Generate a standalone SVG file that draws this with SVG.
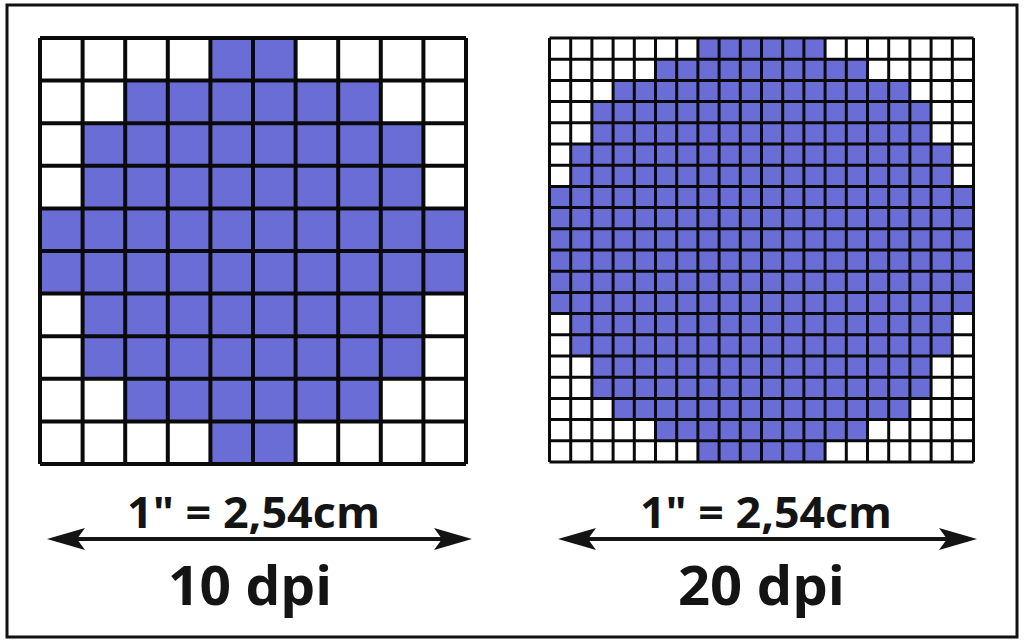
<svg xmlns="http://www.w3.org/2000/svg" width="1024" height="642" viewBox="0 0 1024 642">
<style>
.fill{fill:#6a6dd6;stroke:none}
.grid10{fill:none;stroke:#0a0a0a;stroke-width:4}
.grid20{fill:none;stroke:#0a0a0a;stroke-width:3}
.lbl{font-family:"Open Sans","Liberation Sans",sans-serif;font-weight:700;fill:#141414;text-anchor:middle}
.dim{stroke:#141414;stroke-width:4;fill:none}
</style>
<defs>
<marker id="ah" markerUnits="userSpaceOnUse" viewBox="0 -12 40 24" markerWidth="40" markerHeight="24" refX="8" refY="0" orient="auto-start-reverse">
<path d="M38,0 L0,-11 L8,0 L0,11 Z" fill="#141414"/>
</marker>
</defs>
<rect x="0" y="0" width="1024" height="642" fill="#ffffff"/>
<rect id="frame" x="7" y="5" width="1010" height="632" fill="#ffffff" stroke="#111" stroke-width="3"/>

<g id="grid-10dpi">
<rect class="fill" x="210.4" y="38" width="85.2" height="42.6"/>
<rect class="fill" x="125.2" y="80.6" width="255.6" height="42.6"/>
<rect class="fill" x="82.6" y="123.2" width="340.8" height="85.2"/>
<rect class="fill" x="40" y="208.4" width="426" height="85.2"/>
<rect class="fill" x="82.6" y="293.6" width="340.8" height="85.2"/>
<rect class="fill" x="125.2" y="378.8" width="255.6" height="42.6"/>
<rect class="fill" x="210.4" y="421.4" width="85.2" height="42.6"/>
<path class="grid10" d="M40 38V464M82.6 38V464M125.2 38V464M167.8 38V464M210.4 38V464M253 38V464M295.6 38V464M338.2 38V464M380.8 38V464M423.4 38V464M466 38V464M40 38H466M40 80.6H466M40 123.2H466M40 165.8H466M40 208.4H466M40 251H466M40 293.6H466M40 336.2H466M40 378.8H466M40 421.4H466M40 464H466"/>
</g>

<g id="grid-20dpi">
<rect class="fill" x="697.9" y="38" width="127.2" height="21.2"/>
<rect class="fill" x="655.5" y="59.2" width="212" height="21.2"/>
<rect class="fill" x="613.1" y="80.4" width="296.8" height="21.2"/>
<rect class="fill" x="591.9" y="101.6" width="339.2" height="42.4"/>
<rect class="fill" x="570.7" y="144" width="381.6" height="42.4"/>
<rect class="fill" x="549.5" y="186.4" width="424" height="127.2"/>
<rect class="fill" x="570.7" y="313.6" width="381.6" height="42.4"/>
<rect class="fill" x="591.9" y="356" width="339.2" height="42.4"/>
<rect class="fill" x="613.1" y="398.4" width="296.8" height="21.2"/>
<rect class="fill" x="655.5" y="419.6" width="212" height="21.2"/>
<rect class="fill" x="697.9" y="440.8" width="127.2" height="21.2"/>
<path class="grid20" d="M549.5 38V462M570.7 38V462M591.9 38V462M613.1 38V462M634.3 38V462M655.5 38V462M676.7 38V462M697.9 38V462M719.1 38V462M740.3 38V462M761.5 38V462M782.7 38V462M803.9 38V462M825.1 38V462M846.3 38V462M867.5 38V462M888.7 38V462M909.9 38V462M931.1 38V462M952.3 38V462M973.5 38V462M549.5 38H973.5M549.5 59.2H973.5M549.5 80.4H973.5M549.5 101.6H973.5M549.5 122.8H973.5M549.5 144H973.5M549.5 165.2H973.5M549.5 186.4H973.5M549.5 207.6H973.5M549.5 228.8H973.5M549.5 250H973.5M549.5 271.2H973.5M549.5 292.4H973.5M549.5 313.6H973.5M549.5 334.8H973.5M549.5 356H973.5M549.5 377.2H973.5M549.5 398.4H973.5M549.5 419.6H973.5M549.5 440.8H973.5M549.5 462H973.5"/>
</g>

<g id="connectors">
<line class="dim" x1="77" y1="539" x2="442" y2="539" marker-start="url(#ah)" marker-end="url(#ah)"/>
<line class="dim" x1="588" y1="539" x2="947" y2="539" marker-start="url(#ah)" marker-end="url(#ah)"/>
</g>

<g id="label-10dpi">
<text class="lbl" x="253.5" y="528" font-size="43" textLength="253" lengthAdjust="spacingAndGlyphs">1" = 2,54cm</text>
<text class="lbl" x="250" y="605" font-size="53" textLength="164" lengthAdjust="spacingAndGlyphs">10 dpi</text>
</g>
<g id="label-20dpi">
<text class="lbl" x="766" y="528" font-size="43" textLength="252" lengthAdjust="spacingAndGlyphs">1" = 2,54cm</text>
<text class="lbl" x="761.5" y="605" font-size="53" textLength="167" lengthAdjust="spacingAndGlyphs">20 dpi</text>
</g>
</svg>
